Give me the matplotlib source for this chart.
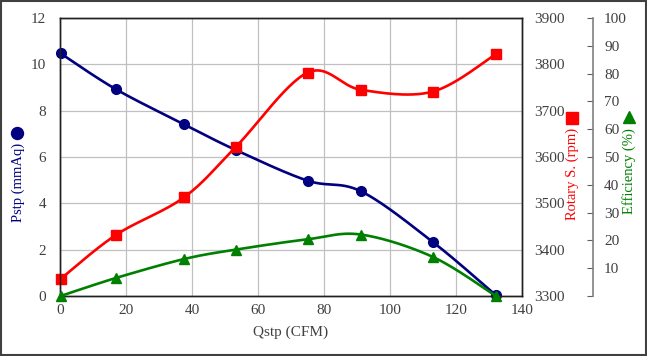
import matplotlib
matplotlib.use("Agg")
import matplotlib.pyplot as plt
from matplotlib.patches import Rectangle
from matplotlib.lines import Line2D
import numpy as np

# values
qstp = [0.2, 17.0, 37.6, 53.3, 75.0, 91.2, 112.9, 132.1]
pstp = [10.47, 8.92, 7.41, 6.30, 4.98, 4.52, 2.34, 0.03]
rpm = [3337, 3432, 3513, 3622, 3782, 3745, 3741, 3822]
eff = [0.0, 6.5, 13.3, 16.7, 20.4, 22.1, 14.1, 0.0]

x_ticks = [0, 20, 40, 60, 80, 100, 120, 140]
p_ticks = [0, 2, 4, 6, 8, 10, 12]
rpm_ticks = [3300, 3400, 3500, 3600, 3700, 3800, 3900]
eff_ticks = [0, 10, 20, 30, 40, 50, 60, 70, 80, 90, 100]

plt.rcParams["font.family"] = ["Liberation Serif", "DejaVu Sans"]
plt.rcParams["font.size"] = 11


def smooth(ax, xs, ys, n=30):
    # Excel-style smoothed line: Bezier curves built in display space
    pts = ax.transData.transform(np.column_stack([xs, ys]))
    p = np.vstack([pts[0], pts, pts[-1]])
    out = []
    t = np.linspace(0, 1, n)[:, None]
    for i in range(1, len(p) - 2):
        p0, p3 = p[i], p[i + 1]
        c1 = p0 + (p[i + 1] - p[i - 1]) / 6
        c2 = p3 - (p[i + 2] - p[i]) / 6
        seg = ((1 - t) ** 3) * p0 + 3 * ((1 - t) ** 2) * t * c1 + 3 * (1 - t) * t ** 2 * c2 + t ** 3 * p3
        out.append(seg)
    curve = ax.transData.inverted().transform(np.vstack(out))
    return curve[:, 0], curve[:, 1]


fig = plt.figure(figsize=(6.47, 3.56), dpi=100)
ax = fig.add_axes([60 / 647, 1 - 296 / 356, 462 / 647, 278 / 356])
ax2 = ax.twinx()
ax3 = ax.twinx()

tick_color = "#404040"

ax.set_xlim(0, 140)
ax.set_ylim(0, 12)
ax.set_xticks(x_ticks)
ax.set_yticks(p_ticks)
ax.grid(True, color="#c0c0c0", linewidth=0.9)
ax.set_axisbelow(True)
ax.tick_params(axis="both", length=0, colors=tick_color, labelsize=11)
ax.tick_params(axis="y", pad=10)
ax.tick_params(axis="x", pad=6)
ax.set_xlabel("Qstp (CFM)", fontsize=11, color=tick_color, labelpad=6)

ax2.set_ylim(3300, 3900)
ax2.set_yticks(rpm_ticks)
ax2.tick_params(axis="y", length=0, colors=tick_color, labelsize=11, pad=9)

ax3.set_ylim(0, 100)
ax3.set_yticks(eff_ticks)
ax3.set_yticklabels([""] + [str(v) for v in eff_ticks[1:]])
ax3.spines["right"].set_position(("axes", (593 - 60) / 462))
ax3.spines["right"].set_color("#808080")
ax3.spines["right"].set_linewidth(1.2)
ax3.tick_params(axis="y", direction="in", length=4, color="#606060",
                labelcolor=tick_color, labelsize=11, pad=8)

for a in (ax, ax2):
    for s in a.spines.values():
        s.set_color("#202020")
        s.set_linewidth(1.0)
for s in ("top", "bottom", "left"):
    ax3.spines[s].set_visible(False)
ax2.spines["top"].set_visible(True)

# series
xb, yb = smooth(ax, qstp, pstp)
ax.plot(xb, yb, color="#000080", linewidth=1.9, clip_on=False)
ax.plot(qstp, pstp, "o", color="#000080", markersize=7, clip_on=False)

xr, yr = smooth(ax2, qstp, rpm)
ax2.plot(xr, yr, color="#ff0000", linewidth=1.9, clip_on=False)
ax2.plot(qstp, rpm, "s", color="#ff0000", markersize=7, clip_on=False)

xg, yg = smooth(ax3, qstp, eff)
ax3.plot(xg, yg, color="#008000", linewidth=1.9, clip_on=False)
ax3.plot(qstp, eff, "^", color="#008000", markersize=7, clip_on=False)

# axis titles with series symbols
fig.text(18 / 647, 1 - 143 / 356, "Pstp (mmAq)", rotation=90, color="#000080",
         fontsize=10.5, ha="center", va="top")
fig.text(572 / 647, 1 - 128 / 356, "Rotary S. (rpm)", rotation=90, color="#ff0000",
         fontsize=10.5, ha="center", va="top")
fig.text(629 / 647, 1 - 128 / 356, "Efficiency (%)", rotation=90, color="#008000",
         fontsize=10.5, ha="center", va="top")

for mx, my, mk, col, ms in [(17, 133, "o", "#000080", 8.6),
                            (572, 118, "s", "#ff0000", 9.2),
                            (629, 117, "^", "#008000", 8.6)]:
    fig.add_artist(Line2D([mx / 647], [1 - my / 356], marker=mk, color=col,
                          markersize=ms, linestyle="none", transform=fig.transFigure))

fig.patches.append(Rectangle((0.001, 0.002), 0.997, 0.995, transform=fig.transFigure,
                             fill=False, edgecolor="#404040", linewidth=1.5))

fig.savefig("out.png", dpi=100)
